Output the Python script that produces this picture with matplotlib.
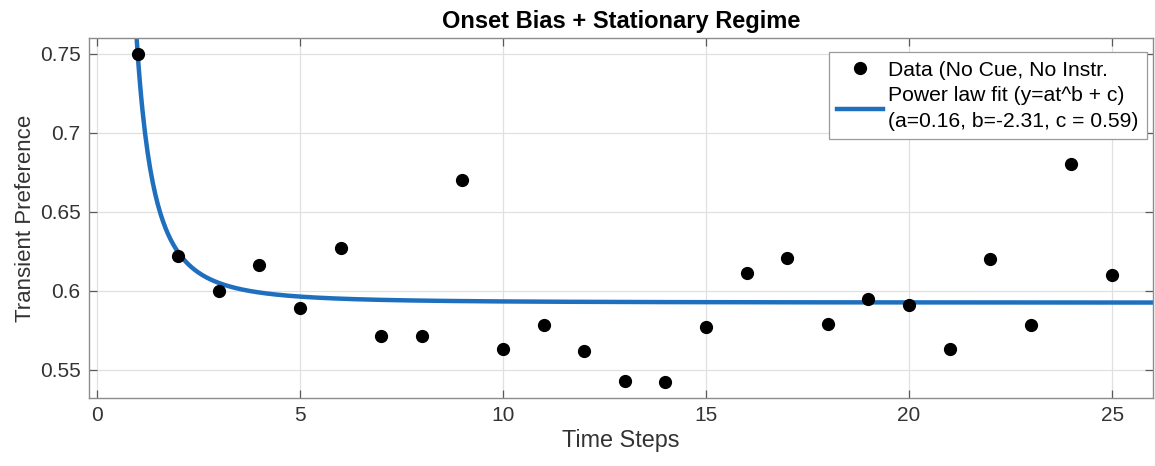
import numpy as np
import matplotlib.pyplot as plt

plt.rcParams['font.family'] = ['Liberation Sans', 'DejaVu Sans']

# transient preference per time step (no cue, no instruction)
steps = np.arange(1, 26)
pref = [0.750, 0.622, 0.600, 0.616, 0.589, 0.627, 0.571, 0.571, 0.670, 0.563,
        0.578, 0.562, 0.543, 0.542, 0.577, 0.611, 0.621, 0.579, 0.595, 0.591,
        0.563, 0.620, 0.578, 0.680, 0.610]

# power law fit y = a*t^b + c
fit_a = 0.158
fit_b = -2.31
fit_c = 0.5924

t = np.linspace(0.9, 26, 800)
y_fit = fit_a * t ** fit_b + fit_c

fig = plt.figure(figsize=(11.55, 4.66), dpi=100)
ax = fig.add_axes([0.077, 0.146, 0.921, 0.772])

ax.plot(steps, pref, 'o', color='k', markersize=8.5, zorder=3,
        label='Data (No Cue, No Instr.')
ax.plot(t, y_fit, '-', color='#1f6fbf', linewidth=3.2, zorder=2,
        label='Power law fit (y=at^b + c)\n(a={:.2f}, b={:.2f}, c = {:.2f})'.format(
            fit_a, fit_b, fit_c))

ax.set_xlim(-0.2, 26)
ax.set_ylim(0.532, 0.760)
ax.set_xticks([0, 5, 10, 15, 20, 25])
ax.set_yticks([0.55, 0.6, 0.65, 0.7, 0.75])
ax.set_yticklabels(['0.55', '0.6', '0.65', '0.7', '0.75'])

ax.grid(True, color='#e0e0e0', linewidth=0.9)
ax.set_axisbelow(True)
for s in ax.spines.values():
    s.set_color('#8c8c8c')
    s.set_linewidth(1.0)
ax.tick_params(direction='in', length=6, width=0.9, color='#5a5a5a',
               labelsize=15, labelcolor='#333333', top=True, right=True, pad=6)

ax.set_xlabel('Time Steps', fontsize=16.8, color='#333333', labelpad=3)
ax.set_ylabel('Transient Preference', fontsize=16, color='#333333', labelpad=3)
ax.set_title('Onset Bias + Stationary Regime', fontsize=17, fontweight='bold',
             pad=7)

leg = ax.legend(loc='upper right', bbox_to_anchor=(0.9944, 0.961),
                fontsize=15.2, frameon=True, fancybox=False,
                framealpha=1, edgecolor='#9a9a9a', handlelength=2.15,
                borderaxespad=0, labelspacing=0.3, handletextpad=0.25,
                borderpad=0.4)
leg.get_frame().set_linewidth(0.9)
for txt in leg.get_texts():
    txt.set_linespacing(1.45)

fig.savefig('out.png', dpi=100)
